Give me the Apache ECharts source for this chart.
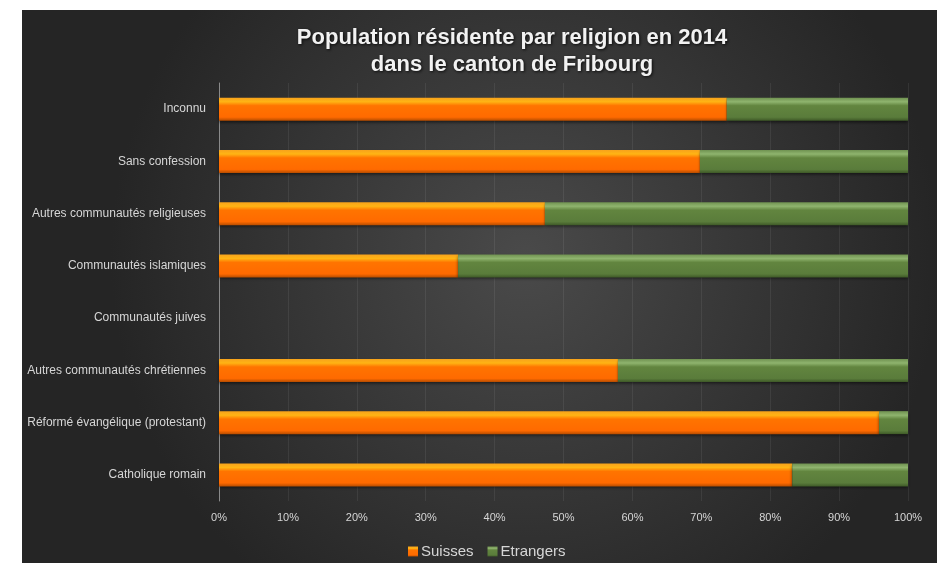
<!DOCTYPE html>
<html>
<head>
<meta charset="utf-8">
<script src="https://cdn.jsdelivr.net/npm/echarts@6/dist/echarts.min.js"></script>
<style>
  html, body { margin: 0; padding: 0; background: #fff; }
  #chart { width: 944px; height: 563px; }
</style>
</head>
<body>
<div id="chart"></div>
<script>
    // catégories, du bas vers le haut (l'axe Y d'echarts commence en bas)
    let categories = [
        "Catholique romain",
        "Réformé évangélique (protestant)",
        "Autres communautés chrétiennes",
        "Communautés juives",
        "Communautés islamiques",
        "Autres communautés religieuses",
        "Sans confession",
        "Inconnu"
    ]
    // parts en %
    let suisses   = [83.2, 95.8, 57.9, null, 34.7, 47.3, 69.8, 73.7]
    let etrangers = [16.8,  4.2, 42.1, null, 65.3, 52.7, 30.2, 26.3]
    let xTicks = [0, 10, 20, 30, 40, 50, 60, 70, 80, 90, 100]

    let labelColor = "#d6d6d6"
    let font = "'Liberation Sans', Arial, sans-serif"

    let orange = new echarts.graphic.LinearGradient(0, 0, 0, 1, [
        {offset: 0,    color: "#f7a21c"},
        {offset: 0.18, color: "#ffb414"},
        {offset: 0.35, color: "#ff7400"},
        {offset: 0.85, color: "#ff6a00"},
        {offset: 1,    color: "#b84d00"}
    ])
    let green = new echarts.graphic.LinearGradient(0, 0, 0, 1, [
        {offset: 0,    color: "#6f9150"},
        {offset: 0.18, color: "#8fb46e"},
        {offset: 0.35, color: "#62853f"},
        {offset: 0.85, color: "#5a7c3b"},
        {offset: 1,    color: "#3f5a28"}
    ])

    let chart = echarts.init(document.getElementById("chart"))

    chart.setOption({
        backgroundColor: "#fff",
        animation: false,
        graphic: [{
            type: "rect",
            z: -10,
            shape: {x: 22, y: 10, width: 915, height: 553},
            style: {
                fill: new echarts.graphic.RadialGradient(0.55, 0.45, 0.75, [
                    {offset: 0, color: "#4a4a4a"},
                    {offset: 1, color: "#252525"}
                ])
            }
        }],
        title: {
            text: "Population résidente par religion en 2014\ndans le canton de Fribourg",
            left: 507,
            textAlign: "center",
            top: 19,
            textStyle: {
                color: "#f2f2f2",
                fontFamily: font,
                fontWeight: "bold",
                fontSize: 22,
                lineHeight: 27,
                textShadowColor: "rgba(0,0,0,0.8)",
                textShadowBlur: 3,
                textShadowOffsetX: 1,
                textShadowOffsetY: 1
            }
        },
        legend: {
            data: ["Suisses", "Etrangers"],
            left: 403,
            top: 539,
            icon: "rect",
            itemWidth: 10,
            itemHeight: 10,
            itemGap: 14,
            textStyle: {color: labelColor, fontSize: 15, fontFamily: font, padding: [0, 0, 0, -2]}
        },
        grid: {left: 219, right: 36, top: 83, bottom: 62},
        xAxis: {
            type: "value",
            min: 0,
            max: 100,
            interval: 10,
            axisLine: {show: false},
            axisTick: {show: false},
            splitLine: {show: true, lineStyle: {color: "rgba(255,255,255,0.07)", width: 1}},
            axisLabel: {
                color: labelColor,
                fontSize: 11,
                fontFamily: font,
                margin: 11,
                formatter: v => xTicks.indexOf(v) >= 0 ? v + "%" : ""
            }
        },
        yAxis: {
            type: "category",
            data: categories,
            axisLine: {show: true, lineStyle: {color: "#8a8a8a", width: 1}},
            axisTick: {show: false},
            axisLabel: {color: labelColor, fontSize: 12, fontFamily: font, margin: 13}
        },
        series: [
            {
                name: "Suisses",
                type: "bar",
                stack: "total",
                barWidth: 23,
                data: suisses,
                itemStyle: {
                    color: orange,
                    shadowColor: "rgba(0,0,0,0.55)",
                    shadowBlur: 3,
                    shadowOffsetY: 2
                }
            },
            {
                name: "Etrangers",
                type: "bar",
                stack: "total",
                barWidth: 23,
                data: etrangers,
                itemStyle: {
                    color: green,
                    shadowColor: "rgba(0,0,0,0.55)",
                    shadowBlur: 3,
                    shadowOffsetY: 2
                }
            }
        ]
    })
</script>
</body>
</html>
